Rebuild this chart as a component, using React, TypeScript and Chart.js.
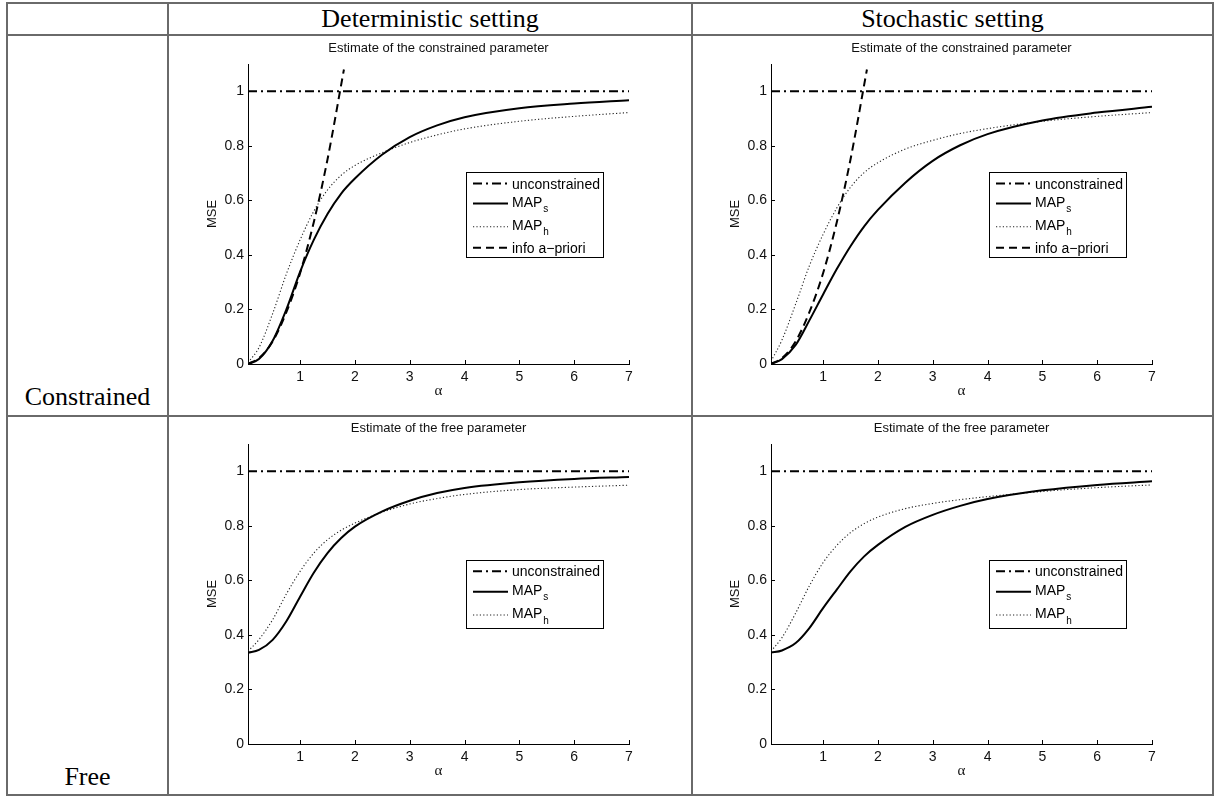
import React, { useEffect, useRef } from 'react';
import { Chart, registerables } from 'chart.js';

Chart.register(...registerables);

// ---------- data ----------
const X_TICKS = [1, 2, 3, 4, 5, 6, 7];
const Y_TICKS = [0, 0.2, 0.4, 0.6, 0.8, 1];
const X_MIN = 0.05;
const X_MAX = 7;
const Y_MIN = 0;
const Y_MAX = 1.1;

const ALPHA = [0.05, 0.25, 0.5, 0.75, 1, 1.25, 1.5, 1.75, 2, 2.5, 3, 3.5, 4, 5, 6, 7];

const UNCONSTRAINED_X = [0.05, 7];
const UNCONSTRAINED_Y = [1, 1];

const PRIOR_X = [0.05, 0.25, 0.5, 0.75, 1, 1.25, 1.5, 1.8];
const PRIOR_Y = [0.001, 0.021, 0.083, 0.19, 0.333, 0.52, 0.75, 1.08];

// Deterministic / constrained
const DET_CON_MAPS = [0, 0.018, 0.085, 0.2, 0.338, 0.455, 0.55, 0.625, 0.68, 0.768, 0.832, 0.875, 0.905, 0.938, 0.955, 0.967];
const DET_CON_MAPH = [0.005, 0.06, 0.185, 0.33, 0.455, 0.56, 0.638, 0.692, 0.728, 0.775, 0.812, 0.84, 0.862, 0.89, 0.908, 0.922];
// Stochastic / constrained
const STO_CON_MAPS = [0, 0.018, 0.07, 0.16, 0.255, 0.348, 0.432, 0.505, 0.565, 0.665, 0.745, 0.802, 0.843, 0.893, 0.922, 0.943];
const STO_CON_MAPH = [0.01, 0.088, 0.22, 0.36, 0.475, 0.572, 0.648, 0.702, 0.738, 0.788, 0.82, 0.845, 0.863, 0.89, 0.908, 0.922];
// Deterministic / free
const DET_FREE_MAPS = [0.335, 0.345, 0.382, 0.45, 0.54, 0.628, 0.7, 0.755, 0.797, 0.853, 0.892, 0.92, 0.939, 0.96, 0.972, 0.979];
const DET_FREE_MAPH = [0.34, 0.383, 0.456, 0.55, 0.633, 0.7, 0.749, 0.784, 0.81, 0.85, 0.88, 0.9, 0.915, 0.933, 0.942, 0.949];
// Stochastic / free
const STO_FREE_MAPS = [0.335, 0.343, 0.37, 0.425, 0.498, 0.566, 0.633, 0.688, 0.73, 0.796, 0.84, 0.873, 0.898, 0.93, 0.95, 0.963];
const STO_FREE_MAPH = [0.34, 0.39, 0.48, 0.58, 0.665, 0.728, 0.775, 0.808, 0.832, 0.863, 0.882, 0.896, 0.907, 0.926, 0.94, 0.95];

const LABEL_UNCON = 'unconstrained';
const LABEL_MAPS = 'MAP_s';
const LABEL_MAPH = 'MAP_h';
const LABEL_PRIOR = 'info a\u2212priori';

const TITLE_CON = 'Estimate of the constrained parameter';
const TITLE_FREE = 'Estimate of the free parameter';

// ---------- helpers ----------
const SANS = "'Liberation Sans', Arial, Helvetica, sans-serif";
const SERIF = "'Liberation Serif', 'Times New Roman', serif";

const pts = (xs: number[], ys: number[]) => xs.map((x, i) => ({ x, y: ys[i] }));

function buildDatasets(maps: number[], maph: number[], withPrior: boolean) {
  const ds: any[] = [
    {
      label: LABEL_UNCON,
      data: pts(UNCONSTRAINED_X, UNCONSTRAINED_Y),
      borderColor: '#000',
      borderWidth: 2,
      borderDash: [9, 4, 2, 4],
      pointRadius: 0,
    },
    {
      label: LABEL_MAPS,
      data: pts(ALPHA, maps),
      borderColor: '#000',
      borderWidth: 2,
      borderDash: [],
      pointRadius: 0,
      cubicInterpolationMode: 'monotone',
    },
    {
      label: LABEL_MAPH,
      data: pts(ALPHA, maph),
      borderColor: '#222',
      borderWidth: 1.1,
      borderDash: [1.2, 2.2],
      pointRadius: 0,
      cubicInterpolationMode: 'monotone',
    },
  ];
  if (withPrior) {
    ds.push({
      label: LABEL_PRIOR,
      data: pts(PRIOR_X, PRIOR_Y),
      borderColor: '#000',
      borderWidth: 2,
      borderDash: [8, 5],
      pointRadius: 0,
      cubicInterpolationMode: 'monotone',
    });
  }
  return ds;
}

const fmt = (v: number) => String(+Number(v).toFixed(1));

const inwardTicks = {
  id: 'inwardTicks',
  afterDatasetsDraw(chart: any) {
    const { ctx, chartArea, scales } = chart;
    ctx.save();
    ctx.strokeStyle = '#000';
    ctx.lineWidth = 1;
    ctx.setLineDash([]);
    ctx.beginPath();
    scales.x.ticks.forEach((t: any) => {
      const px = Math.round(scales.x.getPixelForValue(t.value)) + 0.5;
      ctx.moveTo(px, chartArea.bottom);
      ctx.lineTo(px, chartArea.bottom - 4);
    });
    scales.y.ticks.forEach((t: any) => {
      const py = Math.round(scales.y.getPixelForValue(t.value)) + 0.5;
      ctx.moveTo(chartArea.left, py);
      ctx.lineTo(chartArea.left + 4, py);
    });
    ctx.stroke();
    ctx.restore();
  },
};

function makeLegend(rows: number[], boxH: number) {
  return {
    id: 'matlabLegend',
    afterDraw(chart: any) {
      const { ctx, chartArea } = chart;
      const boxW = 137;
      const x0 = Math.round(chartArea.right - 26.5 - boxW);
      const y0 = Math.round((chartArea.top + chartArea.bottom) / 2 - boxH / 2);
      ctx.save();
      ctx.fillStyle = '#fff';
      ctx.fillRect(x0, y0, boxW, boxH);
      ctx.strokeStyle = '#000';
      ctx.lineWidth = 1;
      ctx.setLineDash([]);
      ctx.strokeRect(x0 + 0.5, y0 + 0.5, boxW, boxH);
      chart.data.datasets.forEach((ds: any, i: number) => {
        const ly = y0 + rows[i];
        ctx.beginPath();
        ctx.setLineDash(ds.borderDash || []);
        ctx.lineWidth = ds.borderWidth;
        ctx.strokeStyle = ds.borderColor;
        ctx.moveTo(x0 + 7, ly);
        ctx.lineTo(x0 + 42, ly);
        ctx.stroke();
        ctx.setLineDash([]);
        ctx.fillStyle = '#000';
        ctx.textAlign = 'left';
        ctx.textBaseline = 'alphabetic';
        const label: string = ds.label;
        const tx = x0 + 46;
        if (label.includes('_')) {
          const [main, sub] = label.split('_');
          ctx.font = `14px ${SANS}`;
          ctx.fillText(main, tx, ly + 3.4);
          const w = ctx.measureText(main).width;
          ctx.font = `10px ${SANS}`;
          ctx.fillText(sub, tx + w + 1, ly + 8.6);
        } else {
          ctx.font = `14px ${SANS}`;
          ctx.fillText(label, tx, ly + 5);
        }
      });
      ctx.restore();
    },
  };
}

type PlotProps = {
  axisL: number;
  axisR: number;
  top: number;
  bottom: number;
  title: string;
  maps: number[];
  maph: number[];
  withPrior: boolean;
};

function Plot({ axisL, axisR, top, bottom, title, maps, maph, withPrior }: PlotProps) {
  const ref = useRef<HTMLCanvasElement>(null);
  const Y_W = 78;
  const TOP_H = 26;
  const X_H = 40;
  const RIGHT_PAD = 12;
  const W = axisR - axisL + Y_W + RIGHT_PAD;
  const H = bottom - top + TOP_H + X_H;

  useEffect(() => {
    if (!ref.current) return;
    const rows = withPrior ? [11.5, 31.4, 54.8, 75.7] : [11.3, 31.7, 55];
    const boxH = withPrior ? 85 : 68;
    const chart = new Chart(ref.current, {
      type: 'line',
      data: { datasets: buildDatasets(maps, maph, withPrior) },
      options: {
        animation: false,
        responsive: false,
        devicePixelRatio: 1,
        layout: { padding: { left: 0, right: RIGHT_PAD, top: 0, bottom: 0 } },
        plugins: {
          legend: { display: false },
          tooltip: { enabled: false },
          title: {
            display: true,
            text: title,
            fullSize: false,
            color: '#111',
            font: { family: SANS, size: 13, weight: 'normal' },
            padding: { top: 2.2, bottom: 8.2 },
          },
        },
        scales: {
          x: {
            type: 'linear',
            min: X_MIN,
            max: X_MAX,
            grid: { display: false, drawTicks: false },
            border: { display: true, color: '#000', width: 1 },
            ticks: {
              color: '#111',
              font: { family: SANS, size: 14 },
              padding: 4.3,
              autoSkip: false,
              maxRotation: 0,
              callback: (v: any) => fmt(v),
            },
            afterBuildTicks: (s: any) => {
              s.ticks = X_TICKS.map((v) => ({ value: v }));
            },
            afterFit: (s: any) => {
              s.height = X_H;
            },
            title: {
              display: true,
              text: '\u03b1',
              color: '#111',
              font: { family: SERIF, size: 15 },
              padding: { top: 0, bottom: 4 },
            },
          },
          y: {
            type: 'linear',
            min: Y_MIN,
            max: Y_MAX,
            grid: { display: false, drawTicks: false },
            border: { display: true, color: '#000', width: 1 },
            ticks: {
              color: '#111',
              font: { family: SANS, size: 14 },
              padding: 4,
              autoSkip: false,
              callback: (v: any) => fmt(v),
            },
            afterBuildTicks: (s: any) => {
              s.ticks = Y_TICKS.map((v) => ({ value: v }));
            },
            afterFit: (s: any) => {
              s.width = Y_W;
            },
            title: {
              display: true,
              text: 'MSE',
              color: '#111',
              font: { family: SANS, size: 13 },
              padding: { top: 34.3, bottom: 0 },
            },
          },
        },
      } as any,
      plugins: [inwardTicks, makeLegend(rows, boxH)],
    });
    return () => chart.destroy();
  }, []);

  return (
    <canvas
      ref={ref}
      width={W}
      height={H}
      style={{ position: 'absolute', left: axisL - Y_W, top: top - TOP_H, width: W, height: H }}
    />
  );
}

const LINE = '#6a6a6a';

function HLine({ y, x1, x2 }: { y: number; x1: number; x2: number }) {
  return <div style={{ position: 'absolute', left: x1 - 1, top: y - 1, width: x2 - x1 + 2, height: 2, background: LINE }} />;
}
function VLine({ x, y1, y2 }: { x: number; y1: number; y2: number }) {
  return <div style={{ position: 'absolute', left: x - 1, top: y1 - 1, width: 2, height: y2 - y1 + 2, background: LINE }} />;
}

function Cell({ left, width, top, text }: { left: number; width: number; top: number; text: string }) {
  return (
    <div
      style={{
        position: 'absolute',
        left,
        width,
        top,
        height: 32,
        lineHeight: '32px',
        fontFamily: SERIF,
        fontSize: 26,
        color: '#000',
        textAlign: 'center',
        whiteSpace: 'nowrap',
      }}
    >
      {text}
    </div>
  );
}

export default function App() {
  const L = 7, C1 = 168, C2 = 692, R = 1213;
  const T = 3, H1 = 35, H2 = 416, B = 795;
  return (
    <div style={{ position: 'absolute', left: 0, top: 0, width: 1220, height: 798, background: '#fff', overflow: 'hidden' }}>
      <HLine y={T} x1={L} x2={R} />
      <HLine y={H1} x1={L} x2={R} />
      <HLine y={H2} x1={L} x2={R} />
      <HLine y={B} x1={L} x2={R} />
      <VLine x={L} y1={T} y2={B} />
      <VLine x={C1} y1={T} y2={B} />
      <VLine x={C2} y1={T} y2={B} />
      <VLine x={R} y1={T} y2={B} />

      <Cell left={C1} width={C2 - C1} top={T} text="Deterministic setting" />
      <Cell left={C2} width={R - C2} top={T} text="Stochastic setting" />
      <Cell left={L} width={C1 - L} top={381} text="Constrained" />
      <Cell left={L} width={C1 - L} top={761} text="Free" />

      <Plot axisL={248} axisR={629} top={64} bottom={364} title={TITLE_CON} maps={DET_CON_MAPS} maph={DET_CON_MAPH} withPrior={true} />
      <Plot axisL={771} axisR={1152} top={64} bottom={364} title={TITLE_CON} maps={STO_CON_MAPS} maph={STO_CON_MAPH} withPrior={true} />
      <Plot axisL={248} axisR={629} top={444} bottom={744} title={TITLE_FREE} maps={DET_FREE_MAPS} maph={DET_FREE_MAPH} withPrior={false} />
      <Plot axisL={771} axisR={1152} top={444} bottom={744} title={TITLE_FREE} maps={STO_FREE_MAPS} maph={STO_FREE_MAPH} withPrior={false} />
    </div>
  );
}
